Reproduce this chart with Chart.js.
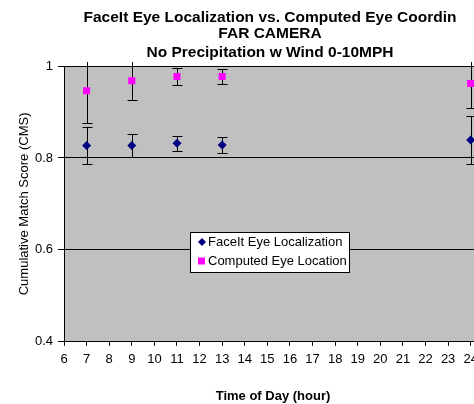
<!DOCTYPE html>
<html>
<head>
<meta charset="utf-8">
<script src="https://cdn.jsdelivr.net/npm/chart.js@4"></script>
<style>
  html, body { margin: 0; padding: 0; background: #fff; overflow: hidden; }
  #wrap { width: 490px; height: 404px; }
</style>
</head>
<body>
<div id="wrap"><canvas id="grafica" width="490" height="404"></canvas></div>
<script>
// datos
const HORAS = [7, 9, 11, 13, 24];
const FACEIT = [0.827, 0.827, 0.832, 0.828, 0.839];
const FACEIT_ERR = [0.041, 0.025, 0.016, 0.018, 0.053];
const COMPUTADO = [0.946, 0.968, 0.977, 0.977, 0.962];
const COMPUTADO_ERR = [0.069, 0.042, 0.018, 0.017, 0.053];

// marcas del eje X (horas)
const HORAS_EJE = [6, 7, 8, 9, 10, 11, 12, 13, 14, 15, 16, 17, 18, 19, 20, 21, 22, 23, 24];

const TITULO = [
  "FaceIt Eye Localization vs. Computed Eye Coordin",
  "FAR CAMERA",
  "No Precipitation w Wind 0-10MPH"
];
const ETIQUETAS = ["FaceIt Eye Localization", "Computed Eye Location"];

const COLORES = {
  fondo: "#C0C0C0",
  azul: "#000080",
  rosa: "#FF00FF",
  negro: "#000000"
};

const FUENTE = 'Arial, "Liberation Sans", sans-serif';

function puntos(ys) {
  return HORAS.map((h, i) => ({ x: h, y: ys[i] }));
}

// fondo gris del area de trazado
const fondoGris = {
  id: "fondoGris",
  beforeDraw(chart) {
    const { ctx, chartArea: a } = chart;
    ctx.save();
    ctx.fillStyle = COLORES.fondo;
    ctx.fillRect(a.left, a.top, a.right - a.left, a.bottom - a.top);
    ctx.restore();
  }
};

// titulo de tres lineas (centrado como en la hoja original)
const titulo = {
  id: "titulo",
  afterDraw(chart) {
    const { ctx } = chart;
    const bases = [22, 38, 57];
    ctx.save();
    ctx.fillStyle = COLORES.negro;
    ctx.font = "bold 15.5px " + FUENTE;
    ctx.textAlign = "center";
    ctx.textBaseline = "alphabetic";
    TITULO.forEach((t, i) => ctx.fillText(t, 270, bases[i]));
    ctx.restore();
  }
};

// barras de error (+/-)
const barrasError = {
  id: "barrasError",
  beforeDatasetsDraw(chart) {
    const { ctx, chartArea: a, scales } = chart;
    ctx.save();
    ctx.beginPath();
    ctx.rect(a.left, a.top - 4, a.right - a.left + 100, a.bottom - a.top + 8);
    ctx.clip();
    ctx.strokeStyle = COLORES.negro;
    ctx.lineWidth = 1;
    chart.data.datasets.forEach(ds => {
      ds.data.forEach((p, i) => {
        const e = ds.errores[i];
        const x = Math.round(scales.x.getPixelForValue(p.x)) + 0.5;
        const yA = Math.round(scales.y.getPixelForValue(p.y + e)) + 0.5;
        const yB = Math.round(scales.y.getPixelForValue(p.y - e)) + 0.5;
        ctx.beginPath();
        ctx.moveTo(x, yA); ctx.lineTo(x, yB);
        ctx.moveTo(x - 5, yA); ctx.lineTo(x + 5, yA);
        ctx.moveTo(x - 5, yB); ctx.lineTo(x + 5, yB);
        ctx.stroke();
      });
    });
    ctx.restore();
  }
};

// leyenda dentro del area
const leyenda = {
  id: "leyenda",
  afterDraw(chart) {
    const { ctx } = chart;
    const x0 = 190, y0 = 232, w = 160, h = 41;
    ctx.save();
    ctx.fillStyle = "#fff";
    ctx.fillRect(x0, y0, w, h);
    ctx.strokeStyle = COLORES.negro;
    ctx.lineWidth = 1;
    ctx.strokeRect(x0 + 0.5, y0 + 0.5, w - 1, h - 1);
    ctx.font = "13px " + FUENTE;
    ctx.textBaseline = "middle";
    chart.data.datasets.forEach((ds, i) => {
      const cy = y0 + 10 + i * 19;
      ctx.fillStyle = ds.backgroundColor;
      if (ds.pointStyle === "rectRot") {
        ctx.beginPath();
        ctx.moveTo(202, cy - 4); ctx.lineTo(206, cy);
        ctx.lineTo(202, cy + 4); ctx.lineTo(198, cy);
        ctx.closePath(); ctx.fill();
      } else {
        ctx.fillRect(198, cy - 3.5, 7, 7);
      }
      ctx.fillStyle = COLORES.negro;
      ctx.fillText(ds.label, 208, cy + 0.5);
    });
    ctx.restore();
  }
};

new Chart(document.getElementById("grafica"), {
  type: "scatter",
  data: {
    datasets: [
      {
        label: ETIQUETAS[0],
        data: puntos(FACEIT),
        errores: FACEIT_ERR,
        pointStyle: "rectRot",
        pointRadius: 4.5,
        backgroundColor: COLORES.azul,
        borderColor: COLORES.azul,
        borderWidth: 0
      },
      {
        label: ETIQUETAS[1],
        data: puntos(COMPUTADO),
        errores: COMPUTADO_ERR,
        pointStyle: "rect",
        pointRadius: 5,
        backgroundColor: COLORES.rosa,
        borderColor: COLORES.rosa,
        borderWidth: 0
      }
    ]
  },
  options: {
    responsive: false,
    animation: false,
    layout: { padding: { left: 0, right: 8, top: 66, bottom: 0 } },
    plugins: {
      legend: { display: false },
      tooltip: { enabled: false },
      title: { display: false }
    },
    scales: {
      x: {
        type: "linear",
        min: 6,
        max: 24.5,
        afterBuildTicks: s => { s.ticks = HORAS_EJE.map(v => ({ value: v })); },
        ticks: {
          autoSkip: false,
          maxRotation: 0,
          color: COLORES.negro,
          padding: 6,
          font: { family: FUENTE, size: 13 }
        },
        grid: {
          drawOnChartArea: false,
          drawTicks: true,
          tickLength: 4,
          color: COLORES.negro
        },
        border: { color: COLORES.negro, width: 1 },
        title: {
          display: true,
          text: "Time of Day (hour)",
          color: COLORES.negro,
          font: { family: FUENTE, size: 13, weight: "bold" },
          padding: { top: 15, bottom: 0 }
        }
      },
      y: {
        min: 0.4,
        max: 1,
        afterFit: s => { s.width = 64; },
        ticks: {
          stepSize: 0.2,
          color: COLORES.negro,
          padding: 5,
          font: { family: FUENTE, size: 13 },
          callback: v => String(Number(v.toFixed(1)))
        },
        grid: {
          color: COLORES.negro,
          tickLength: 6
        },
        border: { color: COLORES.negro, width: 1 },
        title: {
          display: true,
          text: "Cumulative Match Score (CMS)",
          color: COLORES.negro,
          font: { family: FUENTE, size: 13 },
          padding: { top: 17, bottom: 0 }
        }
      }
    }
  },
  plugins: [fondoGris, barrasError, leyenda, titulo]
});
</script>
</body>
</html>
